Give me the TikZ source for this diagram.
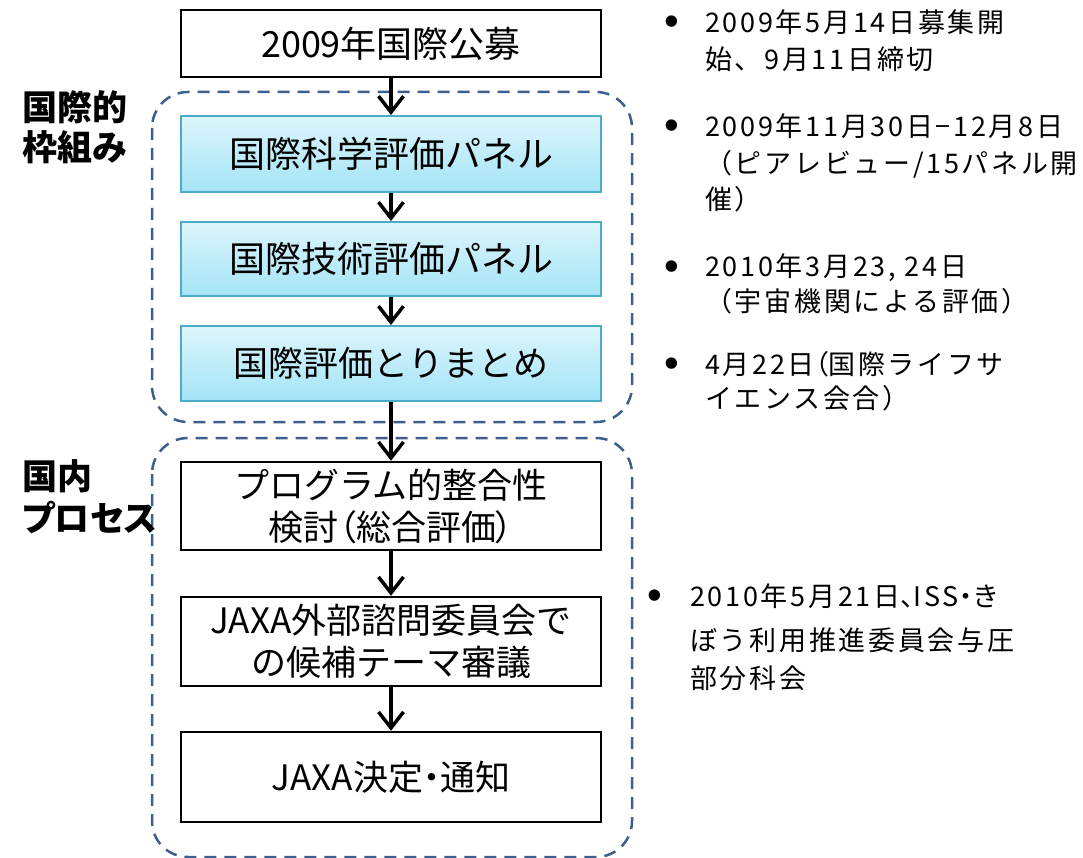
\documentclass[tikz,border=0pt]{standalone}
\usepackage{fontspec}
\setmainfont{Noto Sans CJK JP}
\newfontfamily\rfont[LetterSpace=10]{Noto Sans CJK JP}
\newfontfamily\bulfont{Liberation Sans}
\newcommand{\pp}[1]{{\addfontfeature{RawFeature=+palt}#1}}
\usetikzlibrary{arrows.meta}
\definecolor{dashblue}{HTML}{3D5F8F}
\definecolor{boxtop}{HTML}{DDF5FC}
\definecolor{boxbot}{HTML}{A3E4F7}
\definecolor{boxedge}{HTML}{4BACC6}
\tikzset{
  whitebox/.style={draw=black, line width=2.5pt, fill=white, minimum width=420pt, inner sep=0pt, align=center},
  bluebox/.style={draw=boxedge, line width=2pt, top color=boxtop, bottom color=boxbot, minimum width=420pt, inner sep=0pt, align=center},
  grp/.style={draw=dashblue, line width=2.5pt, dash pattern=on 12pt off 8pt, rounded corners=36pt},
  arr/.style={line width=3.5pt, -{Straight Barb[length=16pt,width=25pt]}},
  side/.style={anchor=west, inner sep=0pt, font=\bfseries\fontsize{35}{42}\selectfont\addfontfeature{RawFeature=+palt}},
  rt/.style={anchor=base west, inner sep=0pt, font=\rfont\fontsize{27}{37}\selectfont},
  bul/.style={anchor=base, inner sep=0pt, font=\bulfont\fontsize{42}{42}\selectfont}
}
\begin{document}
\begin{tikzpicture}[x=1pt,y=-1pt]
\useasboundingbox (0,0) rectangle (1083,858);
% groups
\draw[grp] (152,92) rectangle (632,422);
\draw[grp] (152,438) rectangle (632,857);
% boxes
\node[whitebox, minimum height=67pt, font=\fontsize{36}{42}\selectfont] (b1) at (391,43.5) {2009年国際公募};
\node[bluebox, minimum height=76pt, font=\fontsize{36}{42}\selectfont] (b2) at (391,154) {国際科学評価パネル};
\node[bluebox, minimum height=74pt, font=\fontsize{36}{42}\selectfont] (b3) at (391,259) {国際技術評価パネル};
\node[bluebox, minimum height=75pt, font=\fontsize{35}{42}\selectfont] (b4) at (391,363.5) {国際評価とりまとめ};
\node[whitebox, minimum height=88pt, font=\fontsize{35}{42}\selectfont] (b5) at (391,506) {プログラム的整合性\\検討\pp{（}総合評価\pp{）}};
\node[whitebox, minimum height=89pt, font=\fontsize{35}{42}\selectfont] (b6) at (391,641.5) {JAXA外部諮問委員会で\\の候補テーマ審議};
\node[whitebox, minimum height=90pt, font=\fontsize{35}{42}\selectfont] (b7) at (391,777) {JAXA決定\pp{・}通知};
% arrows
\draw[arr] (b1.south) -- (b2.north);
\draw[arr] (b2.south) -- (b3.north);
\draw[arr] (b3.south) -- (b4.north);
\draw[arr] (b4.south) -- (b5.north);
\draw[arr] (b5.south) -- (b6.north);
\draw[arr] (b6.south) -- (b7.north);
% side labels
\node[side] (s1) at (22,107) {国際的};
\node[side] (s2) at (22,147) {枠組み};
\node[side] (s3) at (22,476) {国内};
\node[side] (s4) at (22,518) {プロセス};
% right notes
\node[bul] (p1) at (672,36) {•};
\node[rt] (t11) at (705,33) {2009年5月14日募集開};
\node[rt] (t12) at (705,70) {始、9月11日締切};
\node[bul] (p2) at (672,140) {•};
\node[rt] (t21) at (705,137) {2009年11月30日−12月8日};
\node[rt] (t22) at (705,174) {（ピアレビュー/15パネル開};
\node[rt] (t23) at (705,210) {催）};
\node[bul] (p3) at (672,280) {•};
\node[rt] (t31) at (705,277) {2010年3月23, 24日};
\node[rt] (t32) at (705,312) {（宇宙機関による評価）};
\node[bul] (p4) at (672,377) {•};
\node[rt] (t41) at (705,374) {4月22日\pp{（}国際ライフサ};
\node[rt] (t42) at (705,408) {イエンス会合）};
\node[bul] (p5) at (655,609) {•};
\node[rt] (t51) at (690,606) {2010年5月21日\pp{、}ISS\pp{・}き};
\node[rt] (t52) at (690,650) {ぼう利用推進委員会与圧};
\node[rt] (t53) at (690,688) {部分科会};
\end{tikzpicture}
\end{document}
